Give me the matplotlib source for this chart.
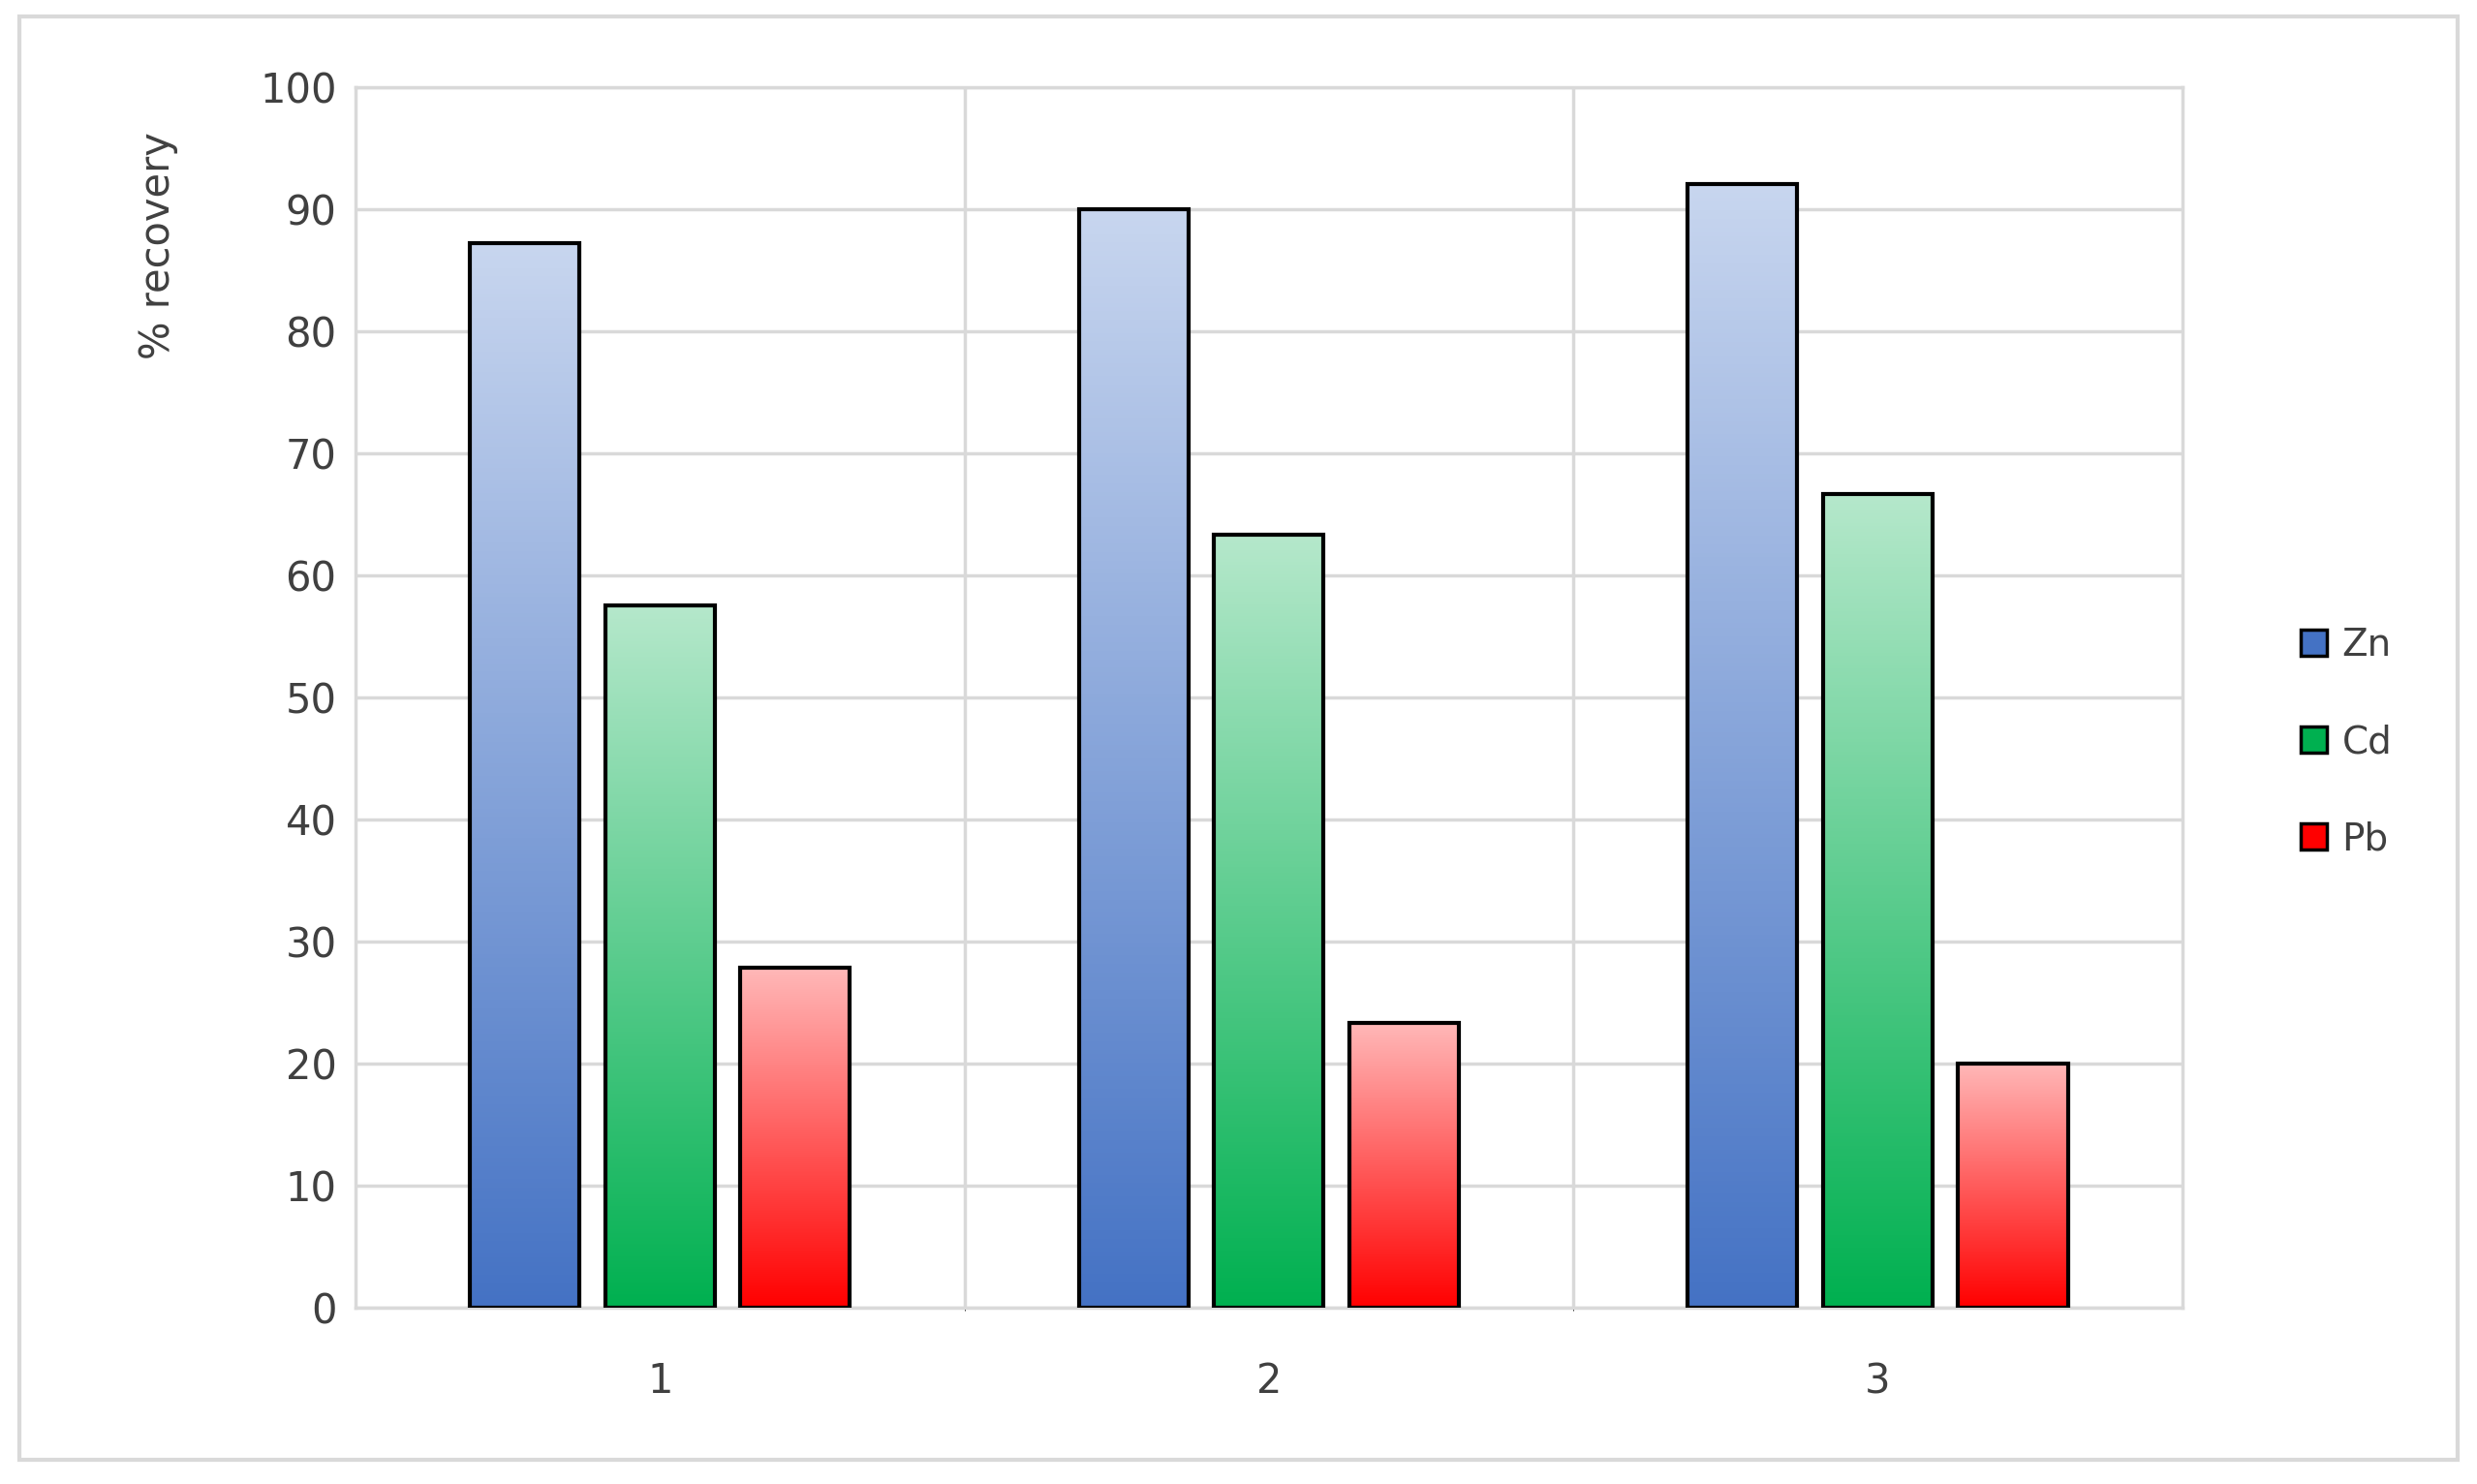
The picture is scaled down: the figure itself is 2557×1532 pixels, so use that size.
import matplotlib
matplotlib.use("Agg")
import matplotlib.pyplot as plt
import numpy as np
from matplotlib.colors import LinearSegmentedColormap
from matplotlib.patches import Rectangle

categories = ["1", "2", "3"]
series = ["Zn", "Cd", "Pb"]
zn = [87.2, 90.0, 92.0]
cd = [57.5, 63.3, 66.6]
pb = [27.8, 23.3, 20.0]
values = [zn, cd, pb]
grad = [("#c8d6ef", "#4472c4"), ("#b5e8cb", "#00b050"), ("#ffb8b8", "#ff0000")]

fig = plt.figure(figsize=(25.57, 15.32), dpi=100)
ax = fig.add_axes([0.1435, 0.119, 0.7375, 0.8225])
ax.set_xlim(0.5, 3.5)
ax.set_ylim(0, 100)

width = 0.18
offsets = [-0.222, 0.0, 0.222]
x = np.arange(1, 4)
g = np.linspace(0, 1, 256).reshape(-1, 1)
for vals, off, (top, bot) in zip(values, offsets, grad):
    cmap = LinearSegmentedColormap.from_list("g", [bot, top])
    for xi, v in zip(x, vals):
        x0 = xi + off - width / 2
        ax.imshow(g, cmap=cmap, origin="lower", aspect="auto",
                  extent=(x0, x0 + width, 0, v), zorder=3)
        ax.add_patch(Rectangle((x0, 0), width, v, fill=False,
                               edgecolor="black", linewidth=3, zorder=4))
ax.set_xlim(0.5, 3.5)
ax.set_ylim(0, 100)

ax.set_yticks(range(0, 101, 10))
ax.set_xticks(x)
ax.set_xticklabels(categories)
ax.set_xticks([1.5, 2.5], minor=True)
ax.grid(axis="y", color="#d9d9d9", linewidth=2.5, zorder=0)
ax.grid(axis="x", which="minor", color="#d9d9d9", linewidth=2.5, zorder=0)
ax.tick_params(length=0, labelsize=30, colors="#404040", pad=14)
ax.tick_params(axis="x", pad=40)
for s in ax.spines.values():
    s.set_color("#d9d9d9")
    s.set_linewidth(2.5)
ax.set_ylabel("% recovery", fontsize=30, color="#404040")
ax.yaxis.set_label_coords(-0.097, 0.87)

handles = [Rectangle((0, 0), 1, 1, facecolor=top, edgecolor="black", linewidth=2.5)
           for top, bot in [(grad[0][1], 0), (grad[1][1], 0), (grad[2][1], 0)]]
leg = fig.legend(handles, series, loc="center left", bbox_to_anchor=(0.915, 0.5),
                 frameon=False, fontsize=28, labelspacing=1.6,
                 handlelength=0.7, handleheight=0.7, handletextpad=0.4)
for t in leg.get_texts():
    t.set_color("#404040")

fig.patches.append(Rectangle((0.0077, 0.016), 0.9845, 0.973, transform=fig.transFigure,
                             fill=False, edgecolor="#d9d9d9", linewidth=3))
fig.savefig("out.png", dpi=100)
